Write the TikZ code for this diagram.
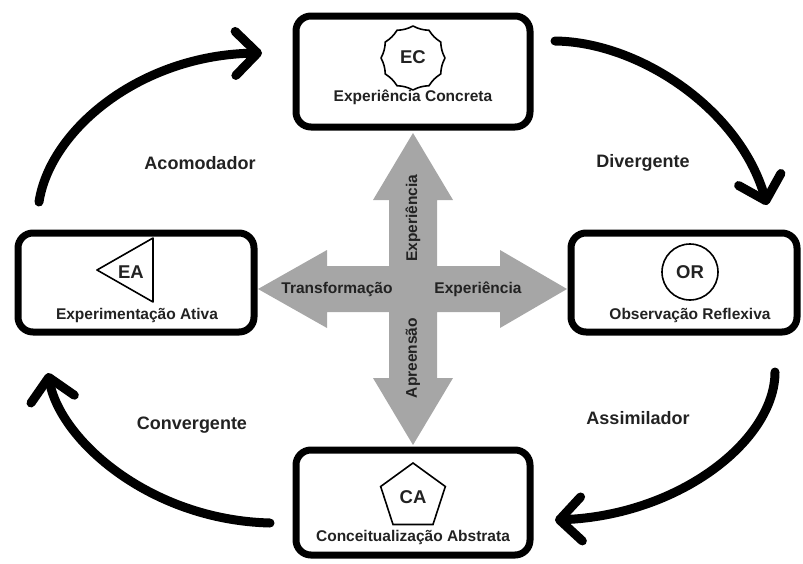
\documentclass[tikz,border=0pt]{standalone}
\usepackage{fontspec}
\setmainfont{Liberation Sans}
\usetikzlibrary{arrows.meta,shapes.geometric}
\definecolor{crossgray}{HTML}{A6A6A6}
\definecolor{txt}{HTML}{222222}
\tikzset{
  stagebox/.style={draw=black, line width=7pt, rounded corners=15pt, inner sep=0pt, fill=white},
  boxlabel/.style={font=\fontsize{15.5}{18}\selectfont\bfseries, text=txt, inner sep=0pt},
  shapelabel/.style={font=\fontsize{18.5}{22}\selectfont\bfseries, text=txt, inner sep=0pt},
  arclabel/.style={font=\fontsize{18}{22}\selectfont\bfseries, text=txt, inner sep=0pt},
  crosslabel/.style={font=\fontsize{15.5}{18}\selectfont\bfseries, text=txt, inner sep=0pt},
  cyclearrow/.style={line width=9pt, line cap=round, draw=black,
    -{Straight Barb[length=22pt,width=44pt,round]}},
  symbolline/.style={draw=black, line width=1.6pt, line join=round},
  scallop/.style={bend right=12}
}
\begin{document}
\begin{tikzpicture}[x=1pt,y=-1pt]
\useasboundingbox (0,0) rectangle (803,563);
% central cross
\fill[crossgray] (413,133) -- (453,200) -- (437,200) -- (437,266) -- (500,266) -- (500,250)
  -- (567,289) -- (500,328) -- (500,312) -- (437,312) -- (437,378) -- (453,378)
  -- (413,445) -- (373,378) -- (389,378) -- (389,312) -- (327,312) -- (327,328)
  -- (258,289) -- (327,250) -- (327,266) -- (389,266) -- (389,200) -- (373,200) -- cycle;
\node[crosslabel, rotate=90] (up) at (413,218) {Experiência};
\node[crosslabel, rotate=90] (down) at (413,358) {Apreensão};
\node[crosslabel] (left) at (337,289) {Transformação};
\node[crosslabel] (right) at (478,289) {Experiência};
% boxes
\node[stagebox, minimum width=234pt, minimum height=111pt] (ecbox) at (413,71.5) {};
\node[stagebox, minimum width=236pt, minimum height=99pt] (eabox) at (136,282.5) {};
\node[stagebox, minimum width=226pt, minimum height=99pt] (orbox) at (684,282.5) {};
\node[stagebox, minimum width=234pt, minimum height=105pt] (cabox) at (413,502.5) {};
% EC symbol: scalloped 12-gon
\coordinate (ecc) at (413,58);
\foreach \k in {0,...,11} {
  \path (ecc) ++({90+30*\k}:32) coordinate (v\k);
}
\draw[symbolline] (v0) to[scallop] (v1) to[scallop] (v2) to[scallop] (v3)
  to[scallop] (v4) to[scallop] (v5) to[scallop] (v6) to[scallop] (v7)
  to[scallop] (v8) to[scallop] (v9) to[scallop] (v10) to[scallop] (v11)
  to[scallop] (v0);
\node[shapelabel] (ec) at (413,57) {EC};
\node[boxlabel] (ect) at (413,97) {Experiência Concreta};
% EA symbol: triangle pointing left
\coordinate (eat) at (97,270);
\coordinate (eau) at (153,238);
\coordinate (ead) at (153,302);
\draw[symbolline] (eat) -- (eau) -- (ead) -- cycle;
\node[shapelabel] (ea) at (131,272) {EA};
\node[boxlabel] (eat2) at (137,315) {Experimentação Ativa};
% OR symbol: circle
\node[circle, draw=black, line width=1.6pt, minimum size=56pt, inner sep=0pt] (orc) at (690,272) {};
\node[shapelabel] (or) at (690,272) {OR};
\node[boxlabel] (ort) at (690,315) {Observação Reflexiva};
% CA symbol: pentagon
\node[regular polygon, regular polygon sides=5, draw=black, line width=1.6pt,
  minimum size=68pt, inner sep=0pt] (cap) at (413,497) {};
\node[shapelabel] (ca) at (413,497) {CA};
\node[boxlabel] (cat) at (413,537) {Conceitualização Abstrata};
% cycle arrows
\coordinate (a1s) at (39,202);  \coordinate (a1e) at (262,53);
\coordinate (a2s) at (555,41);  \coordinate (a2e) at (767,205);
\coordinate (a3s) at (775,372); \coordinate (a3e) at (555,520);
\coordinate (a4s) at (270,523); \coordinate (a4e) at (48,373);
\draw[cyclearrow] (a1s) .. controls (50,130) and (140,55) .. (a1e);
\draw[cyclearrow] (a2s) .. controls (640,42) and (740,110) .. (a2e);
\draw[cyclearrow] (a3s) .. controls (775,440) and (680,515) .. (a3e);
\draw[cyclearrow] (a4s) .. controls (150,520) and (60,440) .. (a4e);
\node[arclabel] (acom) at (200,163) {Acomodador};
\node[arclabel] (div) at (643,163) {Divergente};
\node[arclabel] (assim) at (638,418) {Assimilador};
\node[arclabel] (conv) at (192,425) {Convergente};
\end{tikzpicture}
\end{document}
